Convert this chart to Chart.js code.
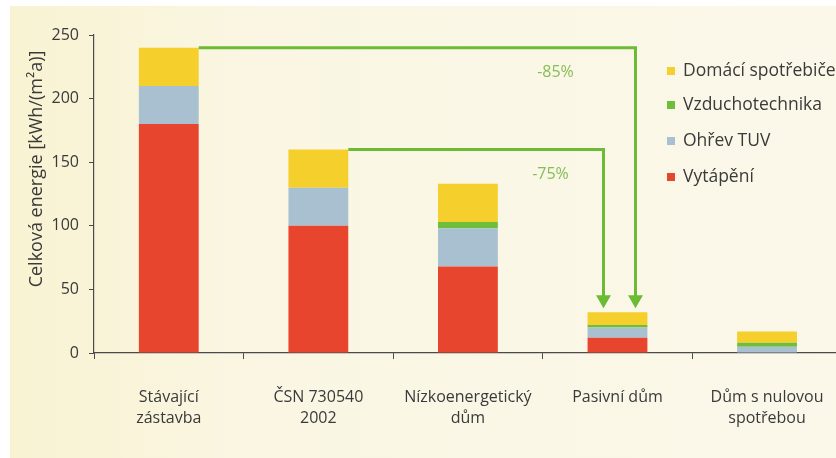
<!DOCTYPE html>
<html lang="cs">
<head>
<meta charset="utf-8">
<title>Celková energie</title>
<script src="https://cdn.jsdelivr.net/npm/chart.js@4/dist/chart.umd.min.js"></script>
<style>
  html, body { margin: 0; padding: 0; background: #ffffff; overflow: hidden; }
  #wrap { width: 852px; height: 458px; }
</style>
</head>
<body>
<div id="wrap"><canvas id="chart" width="852" height="458"></canvas></div>
<script>
// Building categories (x axis)
const categories = [
  ["Stávající", "zástavba"],
  ["ČSN 730540", "2002"],
  ["Nízkoenergetický", "dům"],
  "Pasivní dům",
  ["Dům s nulovou", "spotřebou"]
];

// Energy consumption by use, kWh/(m²a)
const heating     = [180, 100, 68, 12, 0];  // Vytápění
const hotWater    = [30, 30, 30, 8, 5];     // Ohřev TUV
const ventilation = [0, 0, 5, 2, 3];        // Vzduchotechnika
const appliances  = [30, 30, 30, 10, 9];    // Domácí spotřebiče

const yTicks = [0, 50, 100, 150, 200, 250];
const yTitle = "Celková energie [kWh/(m²a)]";

// Reduction arrows: from category, to category, label
const reductionFrom  = [0, 1];
const reductionTo    = [3, 3];
const reductionLabel = ["-85%", "-75%"];

const COLORS = {
  heating: "#e8452f",
  water: "#a9c0d0",
  vent: "#6ebe3c",
  appl: "#f5cf2b",
  arrow: "#6cbb35",
  arrowText: "#86bd56",
  axis: "#4a4a4a",
  text: "#3a3a3a"
};

const FONT = "'Open Sans', 'DejaVu Sans', sans-serif";

const totals = categories.map((_, i) => heating[i] + hotWater[i] + ventilation[i] + appliances[i]);

// Paper-like background
const backgroundPlugin = {
  id: "paper",
  beforeDraw(chart) {
    const { ctx, width, height } = chart;
    ctx.save();
    const g = ctx.createLinearGradient(10, 0, width, 0);
    g.addColorStop(0, "#f8f3d2");
    g.addColorStop(0.3, "#faf6e3");
    g.addColorStop(1, "#fbf8ea");
    ctx.fillStyle = g;
    ctx.fillRect(10, 6, width - 10, height - 6);
    ctx.restore();
  }
};

// Rotated y-axis title
const yTitlePlugin = {
  id: "yTitle",
  afterDraw(chart) {
    const { ctx } = chart;
    ctx.save();
    ctx.translate(37, 169);
    ctx.rotate(-Math.PI / 2);
    ctx.font = "18px " + FONT;
    ctx.fillStyle = COLORS.text;
    ctx.textAlign = "center";
    ctx.textBaseline = "middle";
    ctx.fillText(yTitle, 0, 0);
    ctx.restore();
  }
};

// Legend with square markers, top to bottom in reverse stack order
const legendPlugin = {
  id: "squareLegend",
  afterDraw(chart) {
    const { ctx } = chart;
    const ds = chart.data.datasets.slice().reverse();
    const x0 = 667, rowY = [71, 105, 141, 177];
    ctx.save();
    ctx.font = "17.5px " + FONT;
    ctx.textBaseline = "middle";
    ds.forEach((d, i) => {
      ctx.fillStyle = d.backgroundColor;
      ctx.fillRect(x0, rowY[i] - 4, 8, 8);
      ctx.fillStyle = COLORS.text;
      ctx.fillText(d.label, x0 + 16, rowY[i]);
    });
    ctx.restore();
  }
};

// Green reduction arrows between total bar heights
const arrowPlugin = {
  id: "reductionArrows",
  afterDatasetsDraw(chart) {
    const { ctx, scales: { x, y } } = chart;
    const meta = chart.getDatasetMeta(0);
    const half = meta.data[0].width / 2;
    const offsets = [18, -14];
    const labelX = [-62, -67];
    ctx.save();
    ctx.strokeStyle = COLORS.arrow;
    ctx.fillStyle = COLORS.arrow;
    ctx.lineWidth = 3;
    reductionFrom.forEach((from, k) => {
      const to = reductionTo[k];
      const xs = x.getPixelForValue(from) + half;
      const ys = y.getPixelForValue(totals[from]);
      const xe = x.getPixelForValue(to) + offsets[k];
      const tip = y.getPixelForValue(totals[to]) - 4;
      const headH = 13, headW = 15;
      ctx.beginPath();
      ctx.moveTo(xs, ys);
      ctx.lineTo(xe, ys);
      ctx.lineTo(xe, tip - headH + 1);
      ctx.stroke();
      ctx.beginPath();
      ctx.moveTo(xe - headW / 2, tip - headH);
      ctx.lineTo(xe + headW / 2, tip - headH);
      ctx.lineTo(xe, tip);
      ctx.closePath();
      ctx.fill();
    });
    ctx.fillStyle = COLORS.arrowText;
    ctx.font = "16px " + FONT;
    ctx.textAlign = "center";
    ctx.textBaseline = "middle";
    reductionFrom.forEach((from, k) => {
      const to = reductionTo[k];
      const ys = y.getPixelForValue(totals[from]);
      ctx.fillText(reductionLabel[k], x.getPixelForValue(to) + labelX[k], ys + 25);
    });
    ctx.restore();
  }
};

const barCommon = { barPercentage: 0.4, categoryPercentage: 1.0, borderWidth: 0 };

new Chart(document.getElementById("chart"), {
  type: "bar",
  data: {
    labels: categories,
    datasets: [
      { label: "Vytápění", data: heating, backgroundColor: COLORS.heating, ...barCommon },
      { label: "Ohřev TUV", data: hotWater, backgroundColor: COLORS.water, ...barCommon },
      { label: "Vzduchotechnika", data: ventilation, backgroundColor: COLORS.vent, ...barCommon },
      { label: "Domácí spotřebiče", data: appliances, backgroundColor: COLORS.appl, ...barCommon }
    ]
  },
  options: {
    responsive: false,
    animation: false,
    layout: { padding: { top: 35, right: 5, left: 0, bottom: 0 } },
    plugins: {
      legend: { display: false },
      tooltip: { enabled: false }
    },
    scales: {
      x: {
        stacked: true,
        afterFit(s) { s.height = 105; },
        border: { display: true, color: COLORS.axis, width: 1.2 },
        grid: { display: true, drawOnChartArea: false, drawTicks: true, tickLength: 6, color: COLORS.axis, offset: true },
        ticks: {
          color: COLORS.text,
          font: { family: FONT, size: 16, lineHeight: 1.3 },
          padding: 28,
          maxRotation: 0,
          autoSkip: false
        }
      },
      y: {
        stacked: true,
        min: 0,
        max: 250,
        afterFit(s) { s.width = 94; },
        afterBuildTicks(s) { s.ticks = yTicks.map(v => ({ value: v })); },
        border: { display: true, color: COLORS.axis, width: 1.2 },
        grid: { display: true, drawOnChartArea: false, drawTicks: true, tickLength: 5, color: COLORS.axis },
        ticks: {
          color: COLORS.text,
          font: { family: FONT, size: 16 },
          padding: 10
        },
        title: { display: false }
      }
    }
  },
  plugins: [backgroundPlugin, arrowPlugin, legendPlugin, yTitlePlugin]
});
</script>
</body>
</html>
